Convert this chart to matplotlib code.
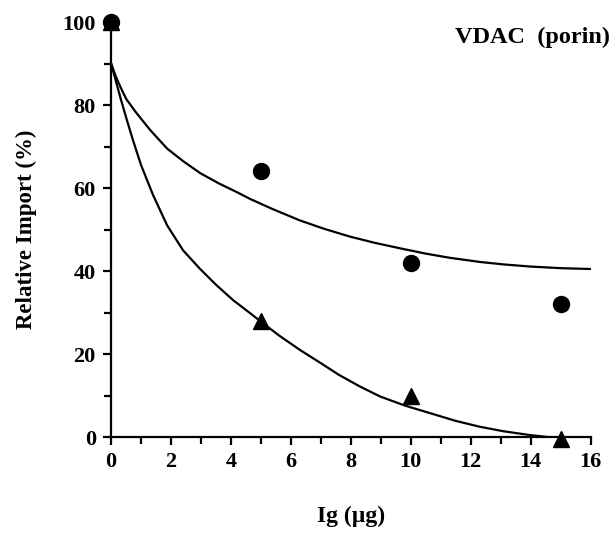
import matplotlib
matplotlib.use("Agg")

import matplotlib.pyplot as plt
from matplotlib.ticker import MultipleLocator

# измеренные точки
ig = [0, 5, 10, 15]
circles = [100, 64, 42, 32]
triangles = [100, 28, 10, -0.5]

# кривые
upper_x = [0, 0.15, 0.3, 0.5, 0.8, 1.3, 1.87, 2.4, 2.97, 3.6, 4.2, 4.63, 5.4, 6.3,
           7.1, 7.97, 8.8, 9.63, 10.5, 11.3, 12.3, 13.1, 13.97, 15.0, 16.0]
upper_y = [90, 87, 84.5, 81.5, 78.5, 74, 69.5, 66.5, 63.6, 61.1, 59.0, 57.4, 54.9, 52.2,
           50.2, 48.3, 46.8, 45.5, 44.2, 43.2, 42.2, 41.6, 41.1, 40.7, 40.5]
lower_x = [0, 0.15, 0.3, 0.5, 0.73, 1.0, 1.4, 1.87, 2.4, 2.97, 3.5, 4.07, 4.63, 5.0,
           5.6, 6.3, 7.0, 7.6, 8.3, 8.97, 9.8, 10.63, 11.5, 12.3, 13.1, 13.97, 14.6, 15.3]
lower_y = [90, 86, 82, 77, 71.5, 65.5, 58.3, 51, 45, 40.5, 36.7, 33, 29.9, 27.8,
           24.5, 21, 17.8, 15, 12.2, 9.8, 7.6, 5.8, 3.9, 2.5, 1.4, 0.5, 0, -0.5]

plt.rcParams["font.family"] = "Liberation Serif"
plt.rcParams["font.weight"] = "bold"

fig = plt.figure(figsize=(6.14, 5.37), dpi=100)
ax = fig.add_axes([0.181, 0.186, 0.781, 0.773])

ax.plot(upper_x, upper_y, color="black", lw=1.6, solid_joinstyle="round")
ax.plot(lower_x, lower_y, color="black", lw=1.6, solid_joinstyle="round")
ax.plot(ig, circles, "o", color="black", ms=11.5, clip_on=False, zorder=5)
ax.plot(ig, triangles, "^", color="black", ms=11.5, clip_on=False, zorder=5)

ax.set_xlim(0, 16)
ax.set_ylim(0, 100)
ax.xaxis.set_major_locator(MultipleLocator(2))
ax.xaxis.set_minor_locator(MultipleLocator(1))
ax.yaxis.set_major_locator(MultipleLocator(20))
ax.yaxis.set_minor_locator(MultipleLocator(10))

for side in ["top", "right"]:
    ax.spines[side].set_visible(False)
for side in ["left", "bottom"]:
    ax.spines[side].set_linewidth(1.6)

ax.tick_params(which="major", direction="out", length=6, width=1.6, labelsize=16, pad=5)
ax.tick_params(which="minor", direction="out", length=5, width=1.6)
for lbl in ax.get_xticklabels() + ax.get_yticklabels():
    lbl.set_fontweight("bold")

ax.set_xlabel("Ig (\u00b5g)", fontsize=17, fontweight="bold", labelpad=24)
ax.set_ylabel("Relative Import (%)", fontsize=16.5, fontweight="bold", labelpad=18)
ax.text(1.04, 0.964, "VDAC  (porin)", transform=ax.transAxes, ha="right", va="center",
        fontsize=17.5, fontweight="bold")

plt.savefig("out.png", dpi=100)
plt.close()
